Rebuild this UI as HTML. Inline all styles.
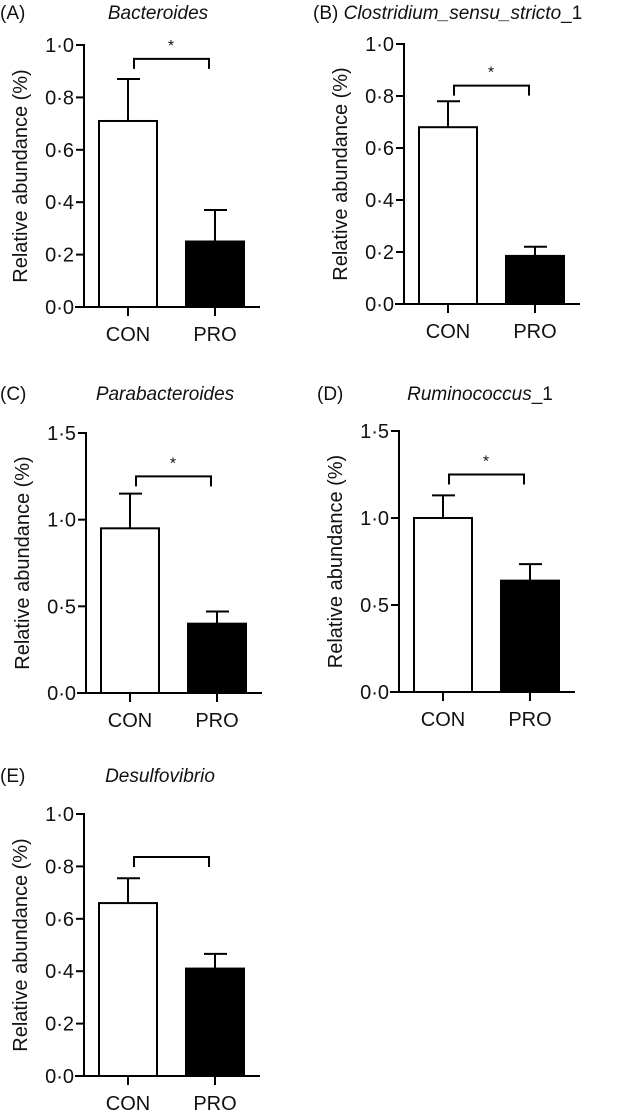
<!DOCTYPE html>
<html><head><meta charset="utf-8">
<style>
html,body{margin:0;padding:0;background:#fff;}
svg{display:block;font-family:"Liberation Sans",Arial,sans-serif;}
</style></head>
<body>
<svg id="fig" width="626" height="1117" viewBox="0 0 626 1117" xmlns="http://www.w3.org/2000/svg"></svg>
<script>
const panelLetters = ["(A)","(B)","(C)","(D)","(E)"];
const panelTitles = ["Bacteroides","Clostridium_sensu_stricto_1","Parabacteroides","Ruminococcus_1","Desulfovibrio"];
const categories = ["CON","PRO"];
const conMeans = [0.71, 0.68, 0.95, 1.0, 0.66];
const conUpper = [0.87, 0.78, 1.15, 1.13, 0.755];
const proMeans = [0.25, 0.185, 0.40, 0.64, 0.41];
const proUpper = [0.37, 0.22, 0.47, 0.735, 0.466];
const yMaxes = [1.0, 1.0, 1.5, 1.5, 1.0];
const tickLabelsSmall = ["0·0","0·2","0·4","0·6","0·8","1·0"];
const tickValuesSmall = [0,0.2,0.4,0.6,0.8,1.0];
const tickLabelsLarge = ["0·0","0·5","1·0","1·5"];
const tickValuesLarge = [0,0.5,1.0,1.5];
const bracketLevels = [0.947, 0.84, 1.25, 1.25, 0.836];
const significant = [true,true,true,true,false];

// layout (not data)
const layout = [
 {ax:84, zero:307, top:45, lx:0, ly:19, tx:158},
 {ax:404, zero:304, top:44, lx:313, ly:19, tx:0},
 {ax:86, zero:693, top:433, lx:0, ly:400, tx:165},
 {ax:399, zero:692, top:431, lx:317, ly:400, tx:480},
 {ax:84, zero:1076, top:814, lx:0, ly:782, tx:160}
];
const NS="http://www.w3.org/2000/svg";
const svg=document.getElementById('fig');
function mk(tag, attrs, parent){
  const e=document.createElementNS(NS,tag);
  for(const k in attrs) e.setAttribute(k, attrs[k]);
  (parent||svg).appendChild(e); return e;
}
panelTitles.forEach((title,i)=>{
  const L=layout[i];
  const g=mk('g',{});
  
  
  const y=v=>L.zero-(v/yMaxes[i])*(L.zero-L.top);
  const xs=c=>L.ax+(c===0?44:131);
  if(i===1){
    const t=mk('text',{x:L.lx,y:L.ly,'font-size':19,fill:'#111'},g);
    
    
    t.innerHTML=panelLetters[i]+' <tspan font-style="italic">Clostridium_sensu_stricto</tspan>_1';
  } else {
    const l=mk('text',{x:L.lx,y:L.ly,'font-size':19,fill:'#111'},g);
    
    
    l.textContent=panelLetters[i];
    const t=mk('text',{x:L.tx,y:L.ly,'font-size':19,'text-anchor':'middle',fill:'#111'},g);
    
    
    if(title.endsWith('_1')){ t.innerHTML='<tspan font-style="italic">'+title.slice(0,-2)+'</tspan>_1'; }
    else { t.setAttribute('font-style','italic'); t.textContent=title; }
  }
  const cy=(L.zero+L.top)/2;
  const yl=mk('text',{x:0,y:0,'font-size':20,'text-anchor':'middle',fill:'#111',transform:`translate(${L.ax-57},${cy}) rotate(-90)`},g);
  
  
  yl.textContent='Relative abundance (%)';
  const tv = yMaxes[i]>1?tickValuesLarge:tickValuesSmall;
  const tl = yMaxes[i]>1?tickLabelsLarge:tickLabelsSmall;
  tv.forEach((v,k)=>{
    const tk=mk('line',{x1:L.ax-8,x2:L.ax,y1:y(v),y2:y(v),stroke:'#000','stroke-width':2},g);
    
    
    const tt=mk('text',{x:L.ax-10,y:y(v)+7,'font-size':20,'text-anchor':'end',fill:'#111'},g);
    
    
    tt.textContent=tl[k];
  });
  const means=[conMeans[i],proMeans[i]], ups=[conUpper[i],proUpper[i]];
  means.forEach((m,c)=>{
    const cx=xs(c);
    const eb=mk('line',{x1:cx,x2:cx,y1:y(m),y2:y(ups[c]),stroke:'#000','stroke-width':2},g);
    
    
    const cap=mk('line',{x1:cx-11,x2:cx+12,y1:y(ups[c]),y2:y(ups[c]),stroke:'#000','stroke-width':2},g);
    
    
    const b=mk('rect',{x:cx-29,y:y(m),width:58,height:L.zero-y(m),fill:c===0?'#fff':'#000',stroke:'#000','stroke-width':2},g);
    
    
    const xt=mk('line',{x1:cx,x2:cx,y1:L.zero,y2:L.zero+9,stroke:'#000','stroke-width':2},g);
    
    
    const xl=mk('text',{x:cx,y:L.zero+34,'font-size':20,'text-anchor':'middle',fill:'#111'},g);
    
    
    xl.textContent=categories[c];
  });
  const ya=mk('line',{x1:L.ax,x2:L.ax,y1:L.top-1,y2:L.zero+1,stroke:'#000','stroke-width':2},g);
  
  
  const xa=mk('line',{x1:L.ax-9,x2:L.ax+176,y1:L.zero,y2:L.zero,stroke:'#000','stroke-width':2},g);
  
  
  const by=y(bracketLevels[i]);
  const br=mk('path',{d:`M${L.ax+50},${by+10} V${by} H${L.ax+125} V${by+10}`,fill:'none',stroke:'#000','stroke-width':2},g);
  
  
  if(significant[i]){
    const st=mk('text',{x:L.ax+87,y:by-8,'font-size':16,'text-anchor':'middle',fill:'#111'},g);
    
    
    st.textContent='*';
  }
});
</script>
</body></html>
